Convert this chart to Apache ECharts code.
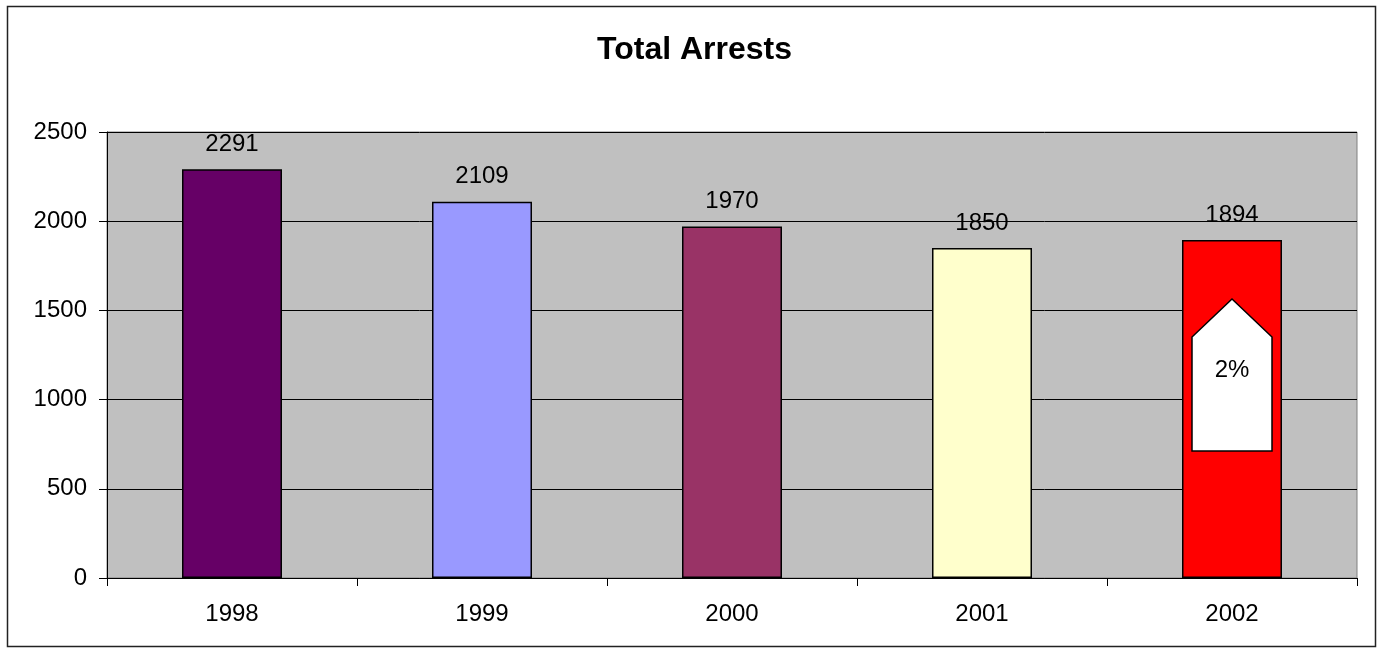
<!DOCTYPE html>
<html><head><meta charset="utf-8">
<script src="https://cdn.jsdelivr.net/npm/echarts@6/dist/echarts.min.js"></script>
<style>html,body{margin:0;padding:0;background:#fff}#c{width:1379px;height:653px}</style>
</head><body><div id="c"></div>
<script>
const categories = ['1998','1999','2000','2001','2002'];
const arrests = [2291, 2109, 1970, 1850, 1894];
const barColors = ['#660066','#9999FF','#993366','#FFFFCC','#FF0000'];
const yTicks = {min:0, max:2500, interval:500};
// annotation arrow on 2002 bar: [categoryIndex, tipValue, shoulderValue, baseValue, labelValue]
const arrowNote = [[4, 1564, 1351, 712, 1166]];
const arrowText = '2%';

const chart = echarts.init(document.getElementById('c'));
const font = "'Liberation Sans', Arial, sans-serif";
chart.setOption({
  animation:false,
  title:{text:'Total Arrests', left:592, top:29, textStyle:{fontFamily:font, fontSize:32, fontWeight:'bold', color:'#000'}},
  grid:{left:107, right:22, top:132, bottom:75, show:true, backgroundColor:'#C0C0C0', borderColor:'#808080', borderWidth:1},
  graphic:[{type:'rect', shape:{x:7.5,y:6.5,width:1368,height:640}, style:{fill:'none', stroke:'#222', lineWidth:1.5}, silent:true}],
  xAxis:{type:'category', data:categories,
    axisLine:{lineStyle:{color:'#000', width:1}},
    axisTick:{show:true, length:8, alignWithLabel:false, lineStyle:{color:'#000'}},
    axisLabel:{fontFamily:font, fontSize:24, color:'#000', margin:24}},
  yAxis:{type:'value', min:yTicks.min, max:yTicks.max, interval:yTicks.interval,
    axisLine:{show:true, lineStyle:{color:'#000', width:1}},
    axisTick:{show:true, length:8, lineStyle:{color:'#000'}},
    splitLine:{lineStyle:{color:'#000', width:1}},
    axisLabel:{fontFamily:font, fontSize:24, color:'#000', margin:20, formatter:v=>String(v)}},
  series:[{
    type:'bar', barWidth:'40%',
    data: arrests.map((v,i)=>({value:v, itemStyle:{color:barColors[i]}})),
    itemStyle:{borderColor:'#000', borderWidth:1.5},
    label:{show:true, position:'top', distance:13, fontFamily:font, fontSize:24, color:'#000'},
    z:2
  },{
    type:'custom', z:5, data: arrowNote,
    encode:{x:0, y:1},
    renderItem:function(params, api){
      const i = api.value(0);
      const tip = api.coord([i, api.value(1)]);
      const sh = api.coord([i, api.value(2)]);
      const base = api.coord([i, api.value(3)]);
      const lab = api.coord([i, api.value(4)]);
      const w = api.size([1,0])[0]*0.32;
      const cx = tip[0];
      return {type:'group', children:[
        {type:'polygon', shape:{points:[[cx,tip[1]],[cx+w/2,sh[1]],[cx+w/2,base[1]],[cx-w/2,base[1]],[cx-w/2,sh[1]]]},
         style:{fill:'#fff', stroke:'#000', lineWidth:1.5}},
        {type:'text', style:{text:arrowText, x:cx, y:lab[1], align:'center', verticalAlign:'middle', font:"24px 'Liberation Sans', Arial, sans-serif", fill:'#000'}}
      ]};
    }
  }]
});
</script></body></html>
